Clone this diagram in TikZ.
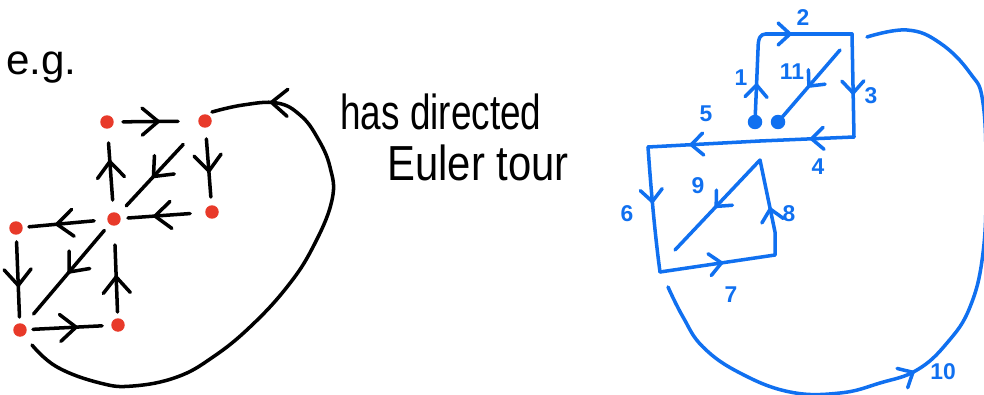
\documentclass[tikz,border=0pt]{standalone}
\usepackage{fontspec}
\setmainfont{Liberation Sans}
\usetikzlibrary{arrows.meta,decorations.markings}
\definecolor{hred}{RGB}{232,58,42}
\definecolor{hblue}{RGB}{16,112,240}
\tikzset{
  vtx/.style={circle,fill=hred,inner sep=0pt,minimum size=2.7mm},
  bdot/.style={circle,fill=hblue,inner sep=0pt,minimum size=2.9mm},
  ink/.style={line width=2pt,line cap=round,line join=round},
  bedge/.style={ink,draw=black},
  bluedge/.style={ink,draw=hblue},
  marr/.style={postaction={decorate},decoration={markings,mark=at position #1 with {\arrow[black,line width=2pt]{Straight Barb[round,length=3.2mm,width=5.4mm]}}}},
  bmarr/.style={postaction={decorate},decoration={markings,mark=at position #1 with {\arrow[hblue,line width=2pt]{Straight Barb[round,length=2.4mm,width=4.4mm]}}}},
  handtext/.style={font=\fontsize{28}{30}\selectfont,inner sep=0pt,anchor=base west},
  numlab/.style={font=\bfseries\fontsize{13}{14}\selectfont,text=hblue,inner sep=0pt}
}
\begin{document}
\begin{tikzpicture}[x=0.02cm,y=-0.02cm]
\useasboundingbox (0,0) rectangle (984,395);
% text
\node[font=\fontsize{24}{26}\selectfont,inner sep=0pt,anchor=base west] (eg) at (6,75) {e.g.};
\node[handtext] (t1) at (340,130) {\scalebox{0.75}[1]{has directed}};
\node[handtext] (t2) at (387,180) {\scalebox{0.85}[1]{Euler tour}};
% left graph vertices
\node[vtx] (A) at (107,122) {};
\node[vtx] (B) at (205,121) {};
\node[vtx] (C) at (212,212) {};
\node[vtx] (D) at (114,219) {};
\node[vtx] (E) at (16,228) {};
\node[vtx] (F) at (20,330) {};
\node[vtx] (G) at (118,325) {};
% left graph edges
\draw[bedge,marr=0.54,shorten <=3.2mm,shorten >=5.4mm] (A.center) -- (B.center);
\draw[bedge,marr=0.57,shorten <=3.6mm,shorten >=3mm] (B.center) -- (C.center);
\draw[bedge,marr=0.60,shorten <=4.4mm,shorten >=2.8mm] (C.center) -- (D.center);
\draw[bedge,marr=0.61,shorten <=3.8mm,shorten >=4.2mm] (D.center) -- (A.center);
\draw[bedge,marr=0.58,shorten <=6.4mm,shorten >=3.6mm] (B.center) -- (D.center);
\draw[bedge,marr=0.60,shorten <=4mm,shorten >=2.6mm] (D.center) -- (E.center);
\draw[bedge,marr=0.58,shorten <=2.8mm,shorten >=2.6mm] (E.center) -- (F.center);
\draw[bedge,marr=0.49,shorten <=3mm,shorten >=4.2mm] (D.center) -- (F.center);
\draw[bedge,marr=0.59,shorten <=2.6mm,shorten >=3.2mm] (F.center) -- (G.center);
\draw[bedge,marr=0.47,shorten <=2.6mm,shorten >=5.2mm] (G.center) -- (D.center);
\coordinate (cs) at (32,345);
\coordinate (ce) at (212,112);
\draw[bedge,marr=0.9] plot[smooth,tension=0.7] coordinates {(cs) (57,367) (100,383) (133,386) (177,377) (213,357) (250,327) (287,287) (313,247) (332,200) (330,167) (317,137) (300,115) (277,103) (243,105) (ce)};
% right diagram
\coordinate (TL1) at (766,34);
\coordinate (TR1) at (852,34);
\coordinate (BR1) at (854,137);
\coordinate (M) at (760,141);
\coordinate (TL2) at (648,147);
\coordinate (BL2) at (660,272);
\coordinate (BR2) at (775,255);
\coordinate (TR2) at (760,160);
\coordinate (E9) at (675,250);
\coordinate (S11) at (840,50);
\coordinate (S10) at (668,287);
\coordinate (E10) at (867,37);
\node[bdot] (d1) at (755,122) {};
\node[bdot] (d2) at (778,122) {};
\draw[bluedge,bmarr=0.42] (d1.center) -- (758,50) .. controls (758,38) and (760,34) .. (TL1);
\draw[bluedge,bmarr=0.3] (TL1) -- (TR1);
\draw[bluedge,bmarr=0.59] (TR1) -- (BR1);
\draw[bluedge,bmarr=0.47] (BR1) -- (M);
\draw[bluedge,bmarr=0.63] (M) -- (TL2);
\draw[bluedge,bmarr=0.45] (TL2) .. controls (651,190) and (655,235) .. (BL2);
\draw[bluedge,bmarr=0.55] (BL2) -- (BR2);
\draw[bluedge,bmarr=0.5] (BR2) -- (775,232) -- (TR2);
\draw[bluedge,bmarr=0.53] (TR2) -- (E9);
\draw[bluedge,bmarr=0.52] (S11) -- (d2.center);
\draw[bluedge,bmarr=0.40] plot[smooth,tension=0.7] coordinates {(S10) (683,317) (703,347) (740,373) (790,392) (840,393) (880,383) (917,370) (947,343) (970,307) (983,253) (986,180) (983,103) (970,73) (940,43) (907,30) (E10)};
% labels
\node[numlab] (l1) at (741,78) {1};
\node[numlab] (l2) at (803,18) {2};
\node[numlab] (l3) at (871,96) {3};
\node[numlab] (l4) at (818,167) {4};
\node[numlab] (l5) at (706,114) {5};
\node[numlab] (l11) at (792,72) {11};
\node[numlab] (l6) at (627,214) {6};
\node[numlab] (l7) at (731,295) {7};
\node[numlab] (l8) at (789,214) {8};
\node[numlab] (l9) at (698,186) {9};
\node[numlab] (l10) at (943,372) {10};
\end{tikzpicture}
\end{document}
